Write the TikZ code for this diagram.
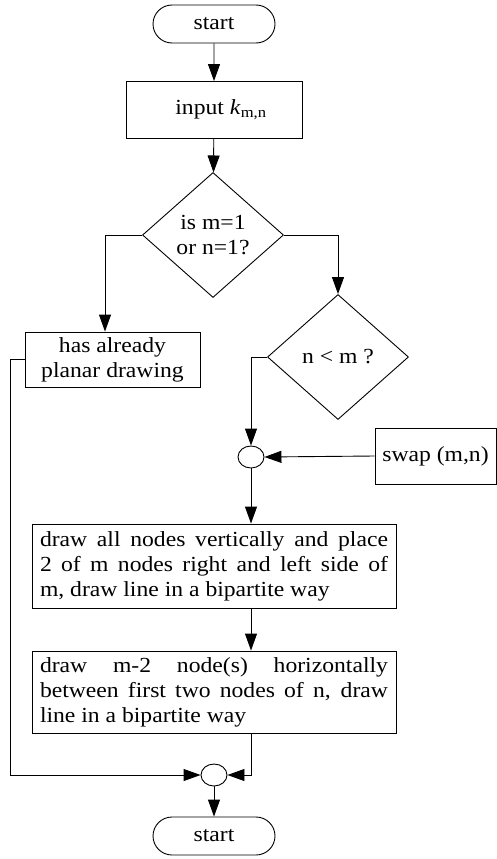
\documentclass[tikz,border=0pt]{standalone}
\usepackage{fontspec}
\setmainfont[FakeStretch=1.1]{Liberation Serif}
\usetikzlibrary{shapes.geometric,shapes.misc,arrows.meta}
\begin{document}
\begin{tikzpicture}[x=1pt,y=-1pt,
  every node/.style={font=\fontsize{21.5}{25}\selectfont},
  base/.style={draw=black,line width=0.9pt},
  term/.style={base,rounded rectangle,minimum width=122pt,minimum height=38pt,inner sep=0pt},
  proc/.style={base,rectangle,inner sep=0pt},
  dec/.style={base,diamond,minimum width=141pt,minimum height=125pt,inner sep=0pt,align=center},
  junc/.style={base,ellipse,minimum width=26pt,minimum height=22pt,inner sep=0pt},
  para/.style={proc,text width=348pt,inner xsep=8pt,inner ysep=3pt,align=justify,minimum height=84pt},
  arr/.style={line width=0.9pt,-{Triangle[length=17pt,width=12pt]}}
]
\useasboundingbox (0,0) rectangle (497,859);

\node[term] (start) at (214,24) {start};
\node[proc,minimum width=176pt,minimum height=57pt] (input) at (214,110) {\hspace*{14pt}input \textit{k}\textsubscript{m,n}};
\node[dec] (d1) at (213,235) {is m=1\\or n=1?};
\node[proc,minimum width=175pt,minimum height=55pt,align=center] (has) at (112.5,359.5) {has already\\planar drawing};
\node[dec] (d2) at (338,357) {n < m ?};
\node[junc] (c1) at (251,457) {};
\node[proc,minimum width=121pt,minimum height=56pt] (swap) at (435.5,456) {swap (m,n)};
\node[para] (b3) at (214,566) {\hyphenpenalty=10000 \exhyphenpenalty=10000 \tolerance=10000
  draw all nodes vertically and place\linebreak 2 of m nodes right and left side of\linebreak m, draw line in a bipartite way};
\node[para,minimum height=82pt] (b4) at (214,692) {\hyphenpenalty=10000 \exhyphenpenalty=10000 \tolerance=10000
  draw m-2 node(s) horizontally\linebreak between first two nodes of n, draw\linebreak line in a bipartite way};
\node[junc] (c2) at (214,775) {};
\node[term] (end) at (214,836) {start};
\coordinate (lft) at (10,359.5);

\draw[arr] (start) -- (input);
\draw[arr] (input) -- (d1);
\draw[arr] (d1.west) -| ([xshift=-7.5pt]has.north);
\draw[arr] (d1.east) -| (d2.north);
\draw[arr] (d2.west) -| (c1.north);
\draw[arr] (swap.west) -- (c1.east);
\draw[arr] (c1.south) -- (c1.south |- b3.north);
\draw[arr] (c1.south |- b3.south) -- (c1.south |- b4.north);
\draw[arr] (c1.south |- b4.south) |- (c2.east);
\draw[arr] (has.west) -- (lft) |- (c2.west);
\draw[arr] (c2) -- (end);
\end{tikzpicture}
\end{document}
